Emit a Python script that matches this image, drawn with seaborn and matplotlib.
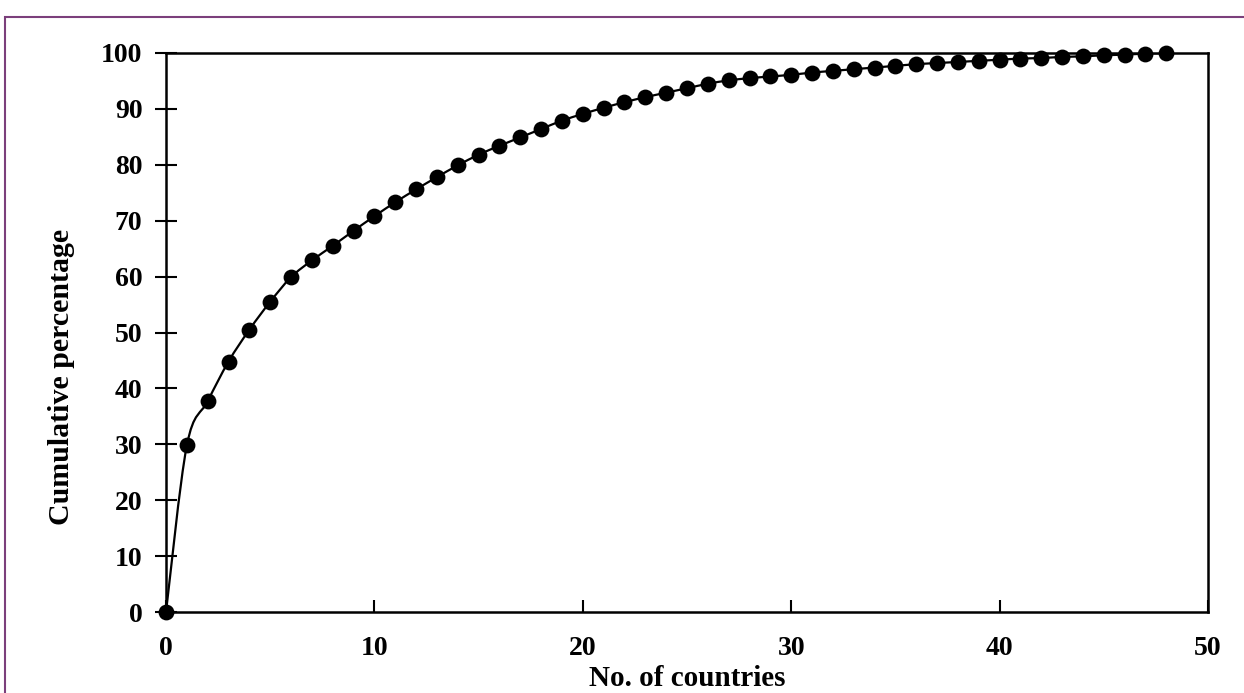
import numpy as np
import pandas as pd
import matplotlib
matplotlib.use("Agg")
import matplotlib.pyplot as plt
from matplotlib.path import Path
from matplotlib.patches import PathPatch, Rectangle
import seaborn as sns

countries = list(range(0, 49))
cumulative = [0, 29.8, 37.7, 44.8, 50.5, 55.5, 59.9, 62.9, 65.5, 68.2,
              70.8, 73.3, 75.6, 77.8, 79.9, 81.8, 83.4, 84.9, 86.4, 87.9,
              89.1, 90.2, 91.2, 92.1, 92.9, 93.7, 94.5, 95.1, 95.5, 95.8,
              96.1, 96.5, 96.8, 97.1, 97.4, 97.7, 98.0, 98.2, 98.4, 98.6,
              98.8, 99.0, 99.1, 99.3, 99.4, 99.6, 99.7, 99.9, 100.0]
x_ticks = [0, 10, 20, 30, 40, 50]
y_ticks = [0, 10, 20, 30, 40, 50, 60, 70, 80, 90, 100]

df = pd.DataFrame({"x": countries, "y": cumulative})

sns.set_theme(style="white")
plt.rcParams['font.family'] = ['Liberation Serif', 'DejaVu Serif']
plt.rcParams['font.weight'] = 'bold'
plt.rcParams['text.color'] = 'black'
plt.rcParams['axes.labelcolor'] = 'black'
plt.rcParams['xtick.color'] = 'black'
plt.rcParams['ytick.color'] = 'black'

fig = plt.figure(figsize=(12.44, 6.93), dpi=100)
ax = fig.add_axes([166/1244, 1-612/693, (1208-166)/1244, (612-53)/693])

# smoothed connecting line (Excel-style Catmull-Rom bezier through the data points)
xs = np.array(countries, float)
ys = np.array(cumulative, float)
verts = [(xs[0], ys[0])]
codes = [Path.MOVETO]
n = len(xs)
for i in range(n - 1):
    p0 = (xs[max(i-1, 0)], ys[max(i-1, 0)])
    p1 = (xs[i], ys[i])
    p2 = (xs[i+1], ys[i+1])
    p3 = (xs[min(i+2, n-1)], ys[min(i+2, n-1)])
    c1 = (p1[0] + (p2[0]-p0[0])/6, p1[1] + (p2[1]-p0[1])/6)
    c2 = (p2[0] - (p3[0]-p1[0])/6, p2[1] - (p3[1]-p1[1])/6)
    verts += [c1, c2, p2]
    codes += [Path.CURVE4]*3
ax.add_patch(PathPatch(Path(verts, codes), facecolor='none', edgecolor='black', lw=1.6, zorder=2))

sns.scatterplot(data=df, x="x", y="y", ax=ax, color="black", s=130,
                edgecolor="black", linewidth=0, zorder=3, clip_on=False)

ax.set_xlim(0, 50)
ax.set_ylim(0, 100)
ax.set_xticks(x_ticks)
ax.set_yticks(y_ticks)
ax.tick_params(axis='x', direction='in', length=9, width=1.5, labelsize=20, pad=17, bottom=True)
ax.tick_params(axis='y', direction='inout', length=16, width=1.5, labelsize=20, pad=9, left=True)
for lab in ax.get_xticklabels() + ax.get_yticklabels():
    lab.set_fontweight('bold')
for s in ax.spines.values():
    s.set_color('black')
    s.set_linewidth(1.8)
ax.set_xlabel("No. of countries", fontsize=21, fontweight='bold', labelpad=3)
ax.set_ylabel("Cumulative percentage", fontsize=21.5, fontweight='bold')
ax.yaxis.set_label_coords((75-166)/1042, (612-377)/559)

# purple frame
fig.patches.append(Rectangle((5/1244, -0.05), 1.2, 1-17/693+0.05, transform=fig.transFigure,
                             fill=False, edgecolor='#7b3f7b', lw=1.5))

fig.savefig("out.png", dpi=100)
